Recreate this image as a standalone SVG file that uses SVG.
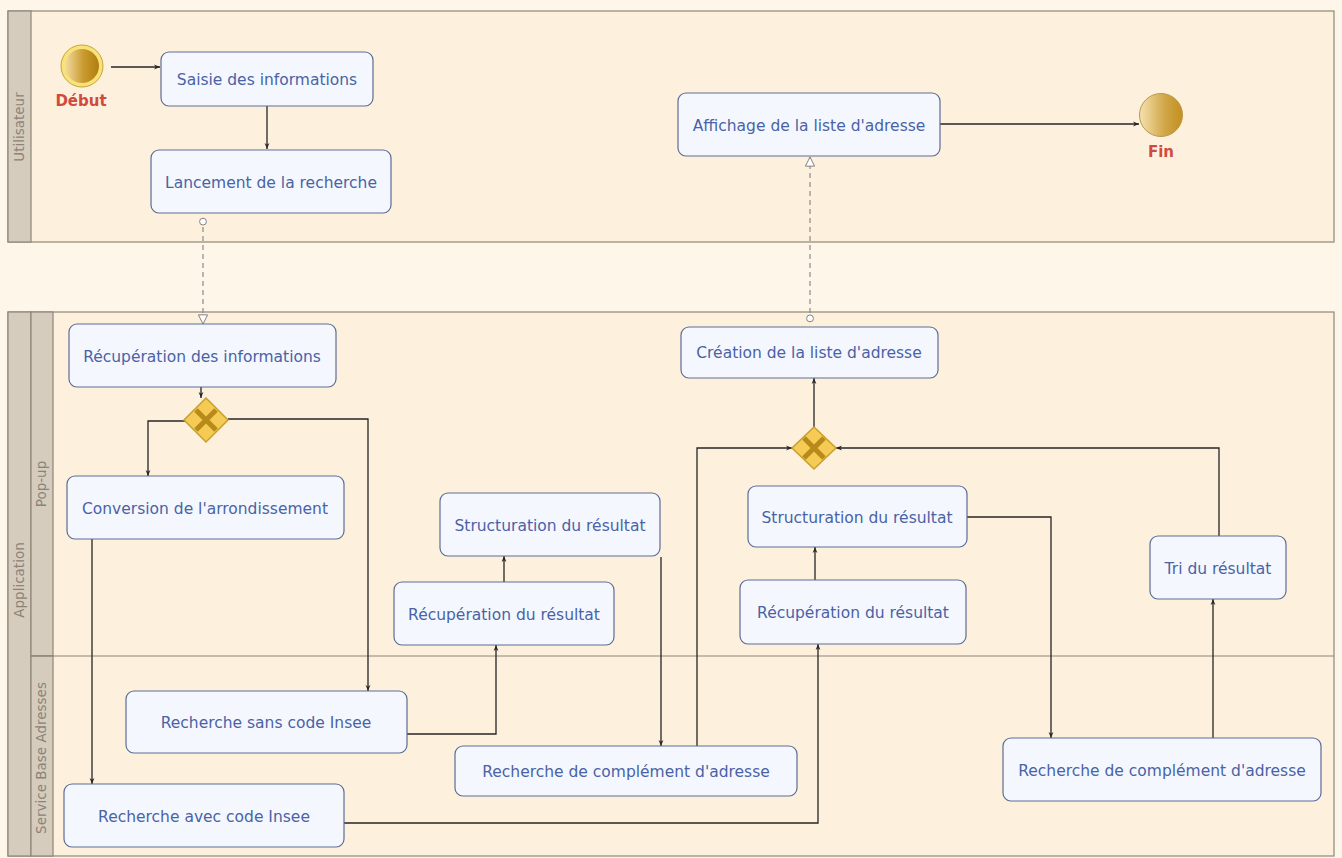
<svg xmlns="http://www.w3.org/2000/svg" width="1342" height="858" viewBox="0 0 1342 858">
<defs>
<style>
.pool{fill:#fdf0dd;stroke:#8f8678;stroke-width:1.2}
.hdr{fill:#d5ccbd;stroke:#8f8678;stroke-width:1.2}
.lane{font-family:"DejaVu Sans",Verdana,sans-serif;font-size:13.5px;fill:#8b8378}
.node rect{fill:#f4f8fe;stroke:#5d6c96;stroke-width:1.2}
.node text{font-family:"DejaVu Sans",Verdana,sans-serif;font-size:15.5px;fill:#4a62a6;text-anchor:middle}
.ev{font-family:"DejaVu Sans",Verdana,sans-serif;font-size:15px;font-weight:bold;fill:#d14a3e;text-anchor:middle}
.flow{fill:none;stroke:#262626;stroke-width:1.3;marker-end:url(#arr)}
.msg{fill:none;stroke:#8a8a8a;stroke-width:1.2;stroke-dasharray:5,4;marker-end:url(#tri);marker-start:url(#circ)}
.gw{fill:#f5cb55;stroke:#c7a02c;stroke-width:1.5}
.gwx{stroke:#b88a1a;stroke-width:5;stroke-linecap:butt}
</style>
<marker id="arr" viewBox="0 0 10 10" refX="10" refY="5" markerWidth="6" markerHeight="6" orient="auto" markerUnits="userSpaceOnUse">
<path d="M0,1 L10,5 L0,9 L3,5 Z" fill="#262626"/>
</marker>
<marker id="tri" viewBox="0 0 12 12" refX="11" refY="6" markerWidth="11" markerHeight="11" orient="auto" markerUnits="userSpaceOnUse">
<path d="M1,1 L11,6 L1,11 Z" fill="#fff" stroke="#777" stroke-width="1"/>
</marker>
<marker id="circ" viewBox="0 0 10 10" refX="1" refY="5" markerWidth="9" markerHeight="9" orient="auto" markerUnits="userSpaceOnUse">
<circle cx="5" cy="5" r="3.8" fill="#fff" stroke="#777" stroke-width="1"/>
</marker>
<linearGradient id="gold" x1="0" y1="0" x2="1" y2="0">
<stop offset="0" stop-color="#f3dca0"/>
<stop offset="0.55" stop-color="#c99a2e"/>
<stop offset="1" stop-color="#b07d10"/>
</linearGradient>
<linearGradient id="gold2" x1="0" y1="0" x2="1" y2="0">
<stop offset="0" stop-color="#f5e2b0"/>
<stop offset="0.6" stop-color="#d0a545"/>
<stop offset="1" stop-color="#c39020"/>
</linearGradient>
</defs>
<rect x="0" y="0" width="1342" height="858" fill="#fef7e9"/>

<g id="pool-utilisateur">
<rect class="pool" x="8" y="11" width="1326" height="231"/>
<rect class="hdr" x="8" y="11" width="23" height="231"/>
<text class="lane" transform="translate(24,127) rotate(-90)" text-anchor="middle">Utilisateur</text>
</g>
<g id="pool-application">
<rect class="pool" x="8" y="312" width="1326" height="544"/>
<rect class="hdr" x="8" y="312" width="23" height="544"/>
<rect class="hdr" x="31" y="312" width="22" height="344"/>
<rect class="hdr" x="31" y="656" width="22" height="200"/>
<line x1="31" y1="656" x2="1334" y2="656" stroke="#8f8678" stroke-width="1.2"/>
<text class="lane" transform="translate(24,580) rotate(-90)" text-anchor="middle">Application</text>
<text class="lane" transform="translate(46,484) rotate(-90)" text-anchor="middle">Pop-up</text>
<text class="lane" transform="translate(46,758) rotate(-90)" text-anchor="middle">Service Base Adresses</text>
</g>

<g id="connectors">
<path class="flow" d="M111,67 H160"/>
<path class="flow" d="M267,106 V149"/>
<path class="msg" d="M203,218 V324"/>
<path class="flow" d="M201,387 V398"/>
<path class="flow" d="M185,421 H148 V476"/>
<path class="flow" d="M228,419 H368 V691"/>
<path class="flow" d="M92,539 V784"/>
<path class="flow" d="M407,734 H496 V645"/>
<path class="flow" d="M504,582 V556"/>
<path class="flow" d="M661,557 V746"/>
<path class="flow" d="M697,746 V448 H792"/>
<path class="flow" d="M344,823 H818 V644"/>
<path class="flow" d="M815,580 V547"/>
<path class="flow" d="M967,517 H1051 V738"/>
<path class="flow" d="M1213,738 V599"/>
<path class="flow" d="M1219,536 V448 H836"/>
<path class="flow" d="M814,427 V378"/>
<path class="msg" d="M810,322 V157"/>
<path class="flow" d="M940,124 H1139"/>
</g>

<g id="start">
<circle cx="82" cy="66" r="21" fill="#f8e27a" stroke="#c9a43a" stroke-width="1"/>
<circle cx="82" cy="66" r="17" fill="url(#gold)"/>
<text class="ev" x="81" y="106">Début</text>
</g>
<g id="end">
<circle cx="1161" cy="115" r="21.5" fill="url(#gold2)" stroke="#b89a4a" stroke-width="1"/>
<text class="ev" x="1161" y="157">Fin</text>
</g>

<g id="n-saisie" class="node"><rect x="161" y="52" width="212" height="54" rx="8"/><text x="267" y="85">Saisie des informations</text></g>
<g id="n-lancement" class="node"><rect x="151" y="150" width="240" height="63" rx="8"/><text x="271" y="188">Lancement de la recherche</text></g>
<g id="n-affichage" class="node"><rect x="678" y="93" width="262" height="63" rx="8"/><text x="809" y="131">Affichage de la liste d'adresse</text></g>
<g id="n-recup-info" class="node"><rect x="69" y="324" width="267" height="63" rx="8"/><text x="202" y="362">Récupération des informations</text></g>
<g id="gw1"><path class="gw" d="M206,398 L228,420 L206,442 L184,420 Z"/><path class="gwx" d="M196,410 L216,430 M216,410 L196,430"/></g>
<g id="n-conversion" class="node"><rect x="67" y="476" width="277" height="63" rx="8"/><text x="205" y="514">Conversion de l'arrondissement</text></g>
<g id="n-sans-insee" class="node"><rect x="126" y="691" width="281" height="62" rx="8"/><text x="266" y="728">Recherche sans code Insee</text></g>
<g id="n-avec-insee" class="node"><rect x="64" y="784" width="280" height="63" rx="8"/><text x="204" y="822">Recherche avec code Insee</text></g>
<g id="n-recup-res1" class="node"><rect x="394" y="582" width="220" height="63" rx="8"/><text x="504" y="620">Récupération du résultat</text></g>
<g id="n-struct1" class="node"><rect x="440" y="493" width="220" height="63" rx="8"/><text x="550" y="531">Structuration du résultat</text></g>
<g id="n-compl1" class="node"><rect x="455" y="746" width="342" height="50" rx="8"/><text x="626" y="777">Recherche de complément d'adresse</text></g>
<g id="n-recup-res2" class="node"><rect x="740" y="580" width="226" height="64" rx="8"/><text x="853" y="618">Récupération du résultat</text></g>
<g id="n-struct2" class="node"><rect x="748" y="486" width="219" height="61" rx="8"/><text x="857" y="523">Structuration du résultat</text></g>
<g id="gw2"><path class="gw" d="M814,427 L836,448 L814,469 L792,448 Z"/><path class="gwx" d="M804,438 L824,458 M824,438 L804,458"/></g>
<g id="n-creation" class="node"><rect x="681" y="327" width="257" height="51" rx="8"/><text x="809" y="358">Création de la liste d'adresse</text></g>
<g id="n-tri" class="node"><rect x="1150" y="536" width="136" height="63" rx="8"/><text x="1218" y="574">Tri du résultat</text></g>
<g id="n-compl2" class="node"><rect x="1003" y="738" width="318" height="63" rx="8"/><text x="1162" y="776">Recherche de complément d'adresse</text></g>
</svg>
